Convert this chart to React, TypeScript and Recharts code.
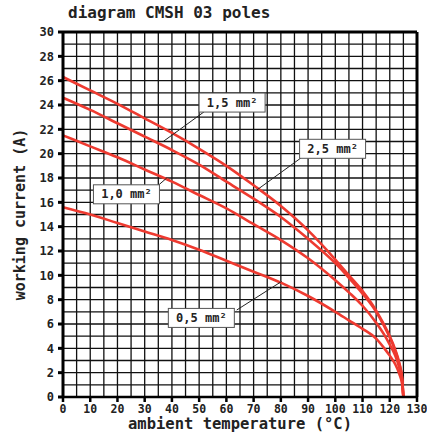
import React from "react";
import {
  CartesianGrid,
  Customized,
  Line,
  LineChart,
  ReferenceDot,
  ReferenceLine,
  XAxis,
  YAxis,
} from "recharts";

// ambient temperature (°C)
const temps = [0, 10, 20, 30, 40, 50, 60, 70, 80, 90, 100, 105, 110, 115, 118, 120, 122, 123.5, 124.5, 125];
// working current (A) per conductor cross-section
const cable05 = [15.6, 15.0, 14.3, 13.6, 12.9, 12.1, 11.2, 10.3, 9.4, 8.3, 7.0, 6.3, 5.6, 4.8, 4.0, 3.4, 2.7, 1.9, 1.1, 0];
const cable10 = [21.5, 20.6, 19.7, 18.7, 17.7, 16.6, 15.5, 14.2, 12.9, 11.4, 9.6, 8.6, 7.5, 6.1, 5.1, 4.3, 3.4, 2.4, 1.4, 0];
const cable15 = [24.6, 23.6, 22.5, 21.4, 20.3, 19.1, 17.7, 16.3, 14.8, 13.0, 11.0, 9.8, 8.5, 7.0, 5.8, 4.9, 3.8, 2.7, 1.6, 0];
const cable25 = [26.3, 25.2, 24.1, 22.9, 21.7, 20.4, 19.0, 17.4, 15.7, 13.7, 11.3, 10.0, 8.7, 7.1, 5.9, 5.0, 3.9, 2.8, 1.6, 0];

const xTicks = [0, 10, 20, 30, 40, 50, 60, 70, 80, 90, 100, 110, 120, 130];
const yTicks = [0, 2, 4, 6, 8, 10, 12, 14, 16, 18, 20, 22, 24, 26, 28, 30];
const xGrid = Array.from({ length: 27 }, (_, i) => i * 5);
const yGrid = Array.from({ length: 31 }, (_, i) => i);

// callout boxes: label, box centre and leader line (data units)
const callouts = [
  { text: "1,5 mm²", box: [62.1, 24.2], from: [52.8, 23.6], to: [36.8, 21.0] },
  { text: "2,5 mm²", box: [99.0, 20.4], from: [87.7, 19.7], to: [71.1, 17.0] },
  { text: "1,0 mm²", box: [23.3, 16.66], from: [35.0, 17.4], to: [38.1, 18.0] },
  { text: "0,5 mm²", box: [50.8, 6.5], from: [63.8, 7.15], to: [80.3, 9.5] },
];

const data = temps.map((t, i) => ({
  t,
  c05: cable05[i],
  c10: cable10[i],
  c15: cable15[i],
  c25: cable25[i],
}));

const FONT = "'DejaVu Sans Mono', monospace";
const RED = "#ee3a30";

function CalloutBox(props: any) {
  const { cx, cy, text } = props;
  return (
    <g>
      <rect x={cx - 33} y={cy - 9.5} width={66} height={19} fill="#fff" stroke="#555" strokeWidth={1} />
      <text
        x={cx}
        y={cy + 4}
        textAnchor="middle"
        fontFamily={FONT}
        fontWeight="bold"
        fontSize={12}
        fill="#222"
      >
        {text}
      </text>
    </g>
  );
}

export default function App() {
  return (
    <div style={{ position: "fixed", left: 0, top: 0, background: "#fff" }}>
      <LineChart
        width={427}
        height={442}
        data={data}
        margin={{ top: 32, right: 10, bottom: 0, left: 0 }}
      >
        <CartesianGrid
          stroke="#111"
          strokeWidth={1.3}
          horizontalValues={yGrid}
          verticalValues={xGrid}
        />
        <XAxis
          dataKey="t"
          type="number"
          domain={[0, 130]}
          ticks={xTicks}
          height={45}
          interval={0}
          stroke="#000"
          strokeWidth={2.5}
          tickSize={5}
          tickMargin={3}
          tick={{ fontFamily: FONT, fontWeight: "bold", fontSize: 11.5, fill: "#222" }}
          label={{
            value: "ambient temperature (°C)",
            position: "insideBottom",
            offset: 13,
            fontFamily: FONT,
            fontWeight: "bold",
            fontSize: 15.5,
            fill: "#222",
          }}
        />
        <YAxis
          type="number"
          domain={[0, 30]}
          ticks={yTicks}
          width={63}
          interval={0}
          stroke="#000"
          strokeWidth={3}
          tickSize={5}
          tickMargin={4}
          tick={{ fontFamily: FONT, fontWeight: "bold", fontSize: 12, fill: "#222" }}
          label={{
            value: "working current (A)",
            angle: -90,
            position: "center",
            dx: -11.5,
            fontFamily: FONT,
            fontWeight: "bold",
            fontSize: 15,
            fill: "#222",
          }}
        />
        <ReferenceLine y={30} stroke="#000" strokeWidth={3} />
        <ReferenceLine x={130} stroke="#000" strokeWidth={3} />

        <Line type="monotone" dataKey="c05" stroke={RED} strokeWidth={2.6} dot={false} isAnimationActive={false} />
        <Line type="monotone" dataKey="c10" stroke={RED} strokeWidth={2.6} dot={false} isAnimationActive={false} />
        <Line type="monotone" dataKey="c15" stroke={RED} strokeWidth={2.6} dot={false} isAnimationActive={false} />
        <Line type="monotone" dataKey="c25" stroke={RED} strokeWidth={2.6} dot={false} isAnimationActive={false} />

        {callouts.map((c) => (
          <ReferenceLine
            key={"l" + c.text}
            segment={[
              { x: c.from[0], y: c.from[1] },
              { x: c.to[0], y: c.to[1] },
            ]}
            stroke="#222"
            strokeWidth={1}
          />
        ))}
        {callouts.map((c) => (
          <ReferenceDot
            key={"b" + c.text}
            x={c.box[0]}
            y={c.box[1]}
            r={1}
            shape={(p: any) => <CalloutBox {...p} text={c.text} />}
          />
        ))}

        <Customized
          component={() => (
            <text x={68} y={18} fontFamily={FONT} fontWeight="bold" fontSize={16} fill="#222">
              diagram CMSH 03 poles
            </text>
          )}
        />
      </LineChart>
    </div>
  );
}
